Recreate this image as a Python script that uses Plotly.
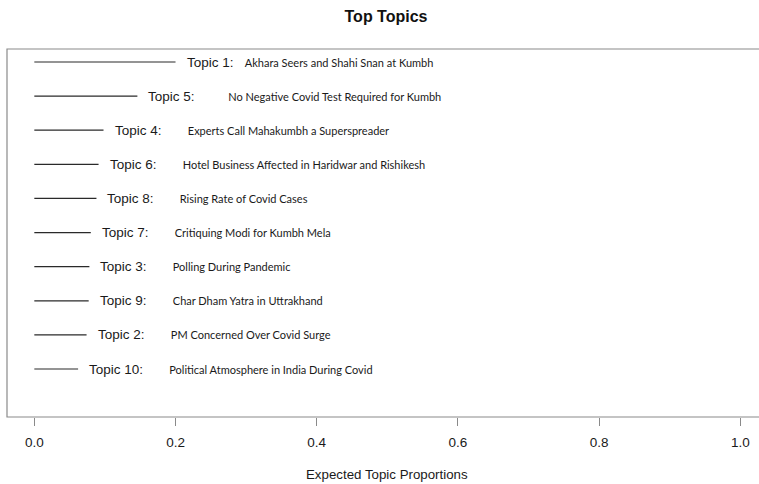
import plotly.graph_objects as go

# ---- data ----
topics = [1, 5, 4, 6, 8, 7, 3, 9, 2, 10]
proportions = [0.200, 0.146, 0.098, 0.091, 0.088, 0.080, 0.078, 0.077, 0.074, 0.062]
descriptions = [
    "Akhara Seers and Shahi Snan at Kumbh",
    "No Negative Covid Test Required for Kumbh",
    "Experts Call Mahakumbh a Superspreader",
    "Hotel Business Affected in Haridwar and Rishikesh",
    "Rising Rate of Covid Cases",
    "Critiquing Modi for Kumbh Mela",
    "Polling During Pandemic",
    "Char Dham Yatra in Uttrakhand",
    "PM Concerned Over Covid Surge",
    "Political Atmosphere in India During Covid",
]
tick_vals = [0.0, 0.2, 0.4, 0.6, 0.8, 1.0]
tick_text = ["0.0", "0.2", "0.4", "0.6", "0.8", "1.0"]

# label spacing (number of non-breaking spaces between "Topic N:" and description)
default_gap = 7
gap_override = {1: 3, 5: 9}

n = len(topics)
ypos = [n - i for i in range(n)]

xs, ys = [], []
for v, p in zip(proportions, ypos):
    xs += [0, v, None]
    ys += [p, p, None]

fig = go.Figure()
fig.add_trace(go.Scatter(x=xs, y=ys, mode="lines",
                         line=dict(color="#2a2a2a", width=1.2),
                         hoverinfo="skip", showlegend=False))

annotations = []
for t, v, p, d in zip(topics, proportions, ypos, descriptions):
    gap = "\u00a0" * gap_override.get(t, default_gap)
    txt = (f"Topic {t}:{gap}"
           f"<span style='font-family:Lato;font-size:11px;color:#1a1a1a'>{d}</span>")
    annotations.append(dict(x=v, y=p, xref="x", yref="y", text=txt,
                            showarrow=False, xanchor="left", yanchor="middle",
                            xshift=9,
                            font=dict(family="Liberation Sans, Arial", size=13.5,
                                      color="#1a1a1a")))

annotations.append(dict(x=(386.5 - 7) / 752, y=(417 - 474) / 368, xref="paper", yref="paper",
                        text="Expected Topic Proportions", showarrow=False,
                        xanchor="center", yanchor="middle",
                        font=dict(family="Liberation Sans, Arial", size=13.3, color="#1a1a1a")))

fig.update_layout(
    width=759, height=484,
    margin=dict(l=7, r=0, t=49, b=67),
    paper_bgcolor="white", plot_bgcolor="white",
    title=dict(text="<b>Top Topics</b>", x=386 / 759, xref="container", xanchor="center",
               y=1 - 16.5 / 484, yref="container", yanchor="middle",
               font=dict(family="Liberation Sans, Arial", size=16, color="#111")),
    xaxis=dict(range=[-0.0387, 1.0265], tickvals=tick_vals, ticktext=tick_text,
               ticks="outside", ticklen=8, tickcolor="#8a8a8a", tickwidth=1,
               ticklabelstandoff=5,
               showgrid=False, zeroline=False, showline=False,
               tickfont=dict(family="Liberation Sans, Arial", size=13.5, color="#1a1a1a")),
    yaxis=dict(range=[-0.407, 10.381], visible=False, showgrid=False, zeroline=False),
    annotations=annotations,
    shapes=[dict(type="rect", xref="paper", yref="paper", x0=0, x1=1.05, y0=0, y1=1,
                 line=dict(color="#8a8a8a", width=1.2))],
)

fig.write_html("out.html")
